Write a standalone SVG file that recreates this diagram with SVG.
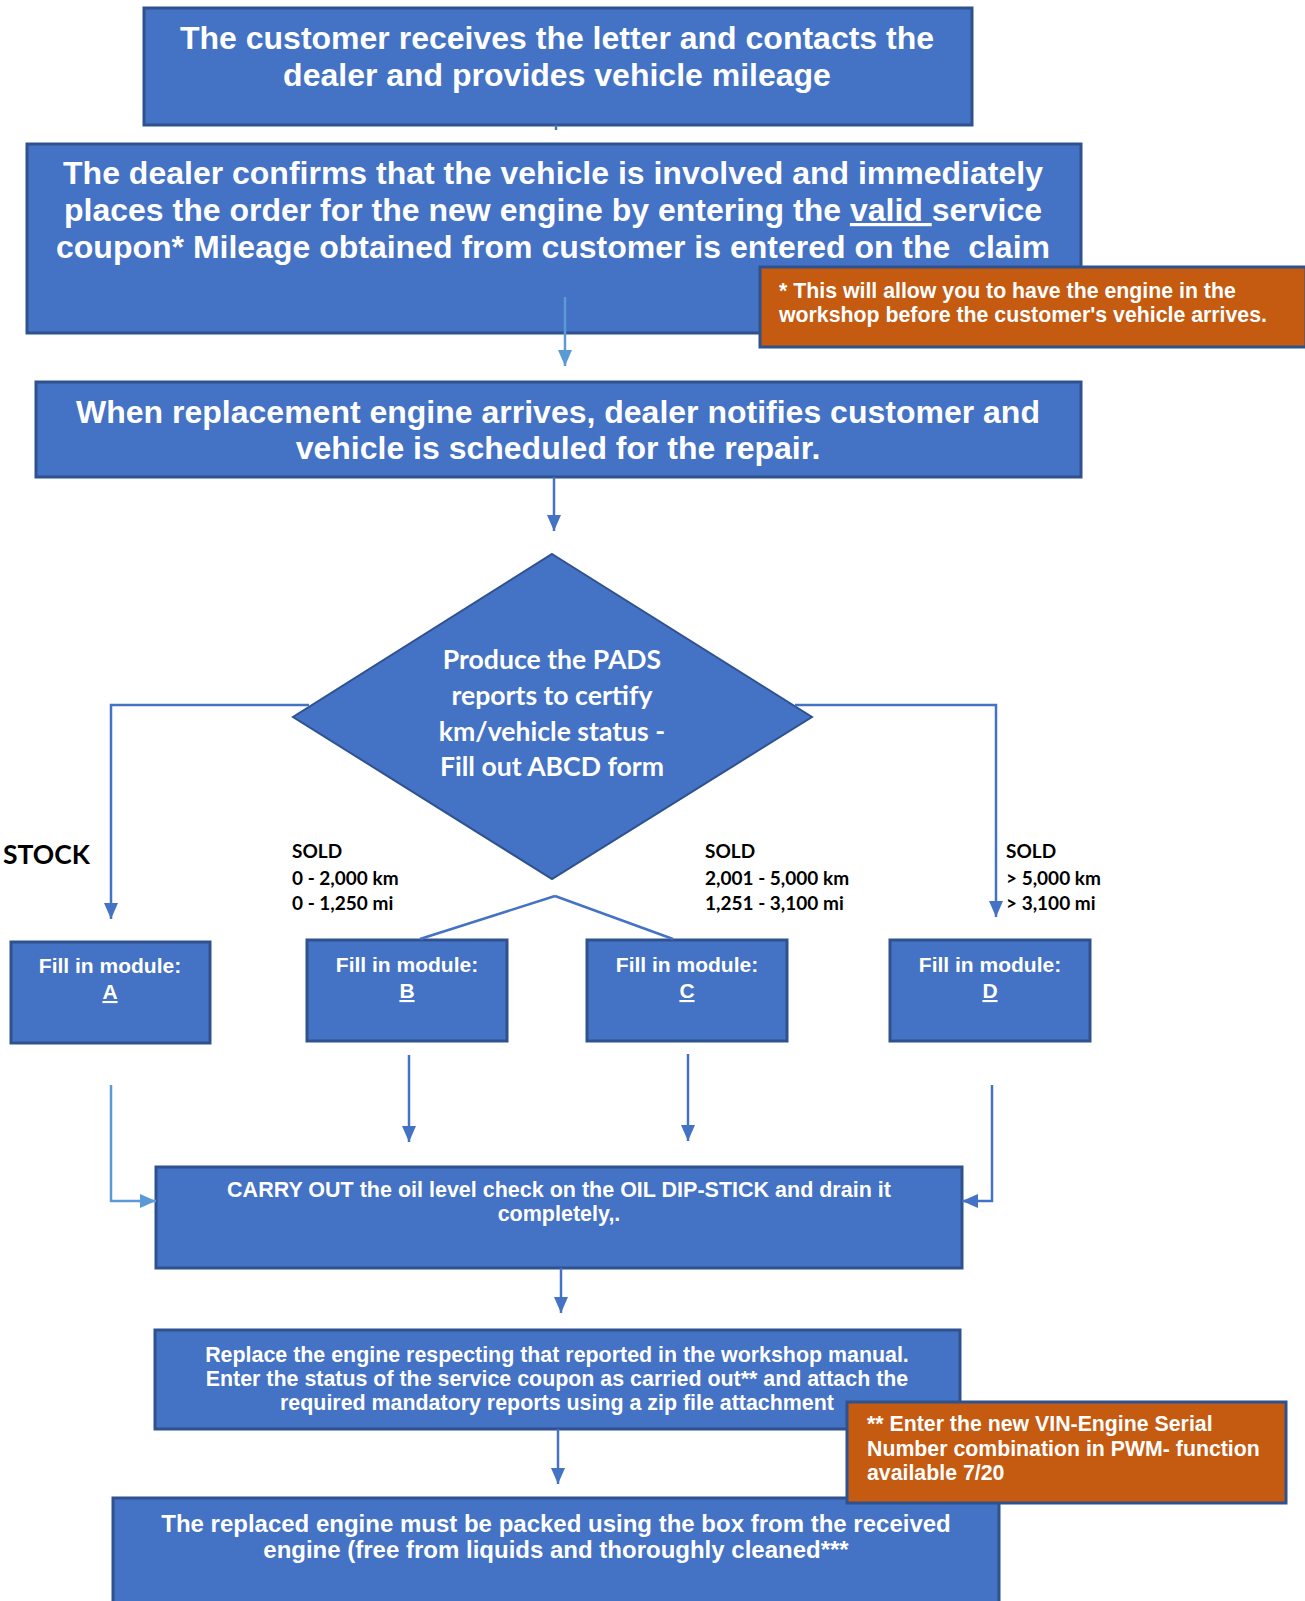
<svg xmlns="http://www.w3.org/2000/svg" width="1305" height="1601" viewBox="0 0 1305 1601">
<style>
.box{fill:#4472C4;stroke:#2F528F;stroke-width:3}
.note{fill:#C55A11;stroke:#2F528F;stroke-width:3}
.t{font-family:"Liberation Sans",Arial,sans-serif;font-weight:bold;fill:#fff}
.c{font-family:Lato,"Liberation Sans",sans-serif;font-weight:bold}
.mid{text-anchor:middle}
.ln{fill:none;stroke:#4472C4;stroke-width:2.5}
.lt{fill:none;stroke:#5B9BD5;stroke-width:2.5}
</style>
<defs>
<marker id="ah" markerUnits="userSpaceOnUse" markerWidth="16" markerHeight="14" refX="16" refY="7" orient="auto"><path d="M0,0 L16,7 L0,14 z" fill="#4472C4"/></marker>
<marker id="ahl" markerUnits="userSpaceOnUse" markerWidth="16" markerHeight="14" refX="16" refY="7" orient="auto"><path d="M0,0 L16,7 L0,14 z" fill="#5B9BD5"/></marker>
</defs>
<rect width="1305" height="1601" fill="#fff"/>

<g id="n1">
<rect class="box" x="144" y="8" width="828" height="117"/>
<text class="t mid" font-size="32" x="557" y="49">The customer receives the letter and contacts the</text>
<text class="t mid" font-size="32" x="557" y="86">dealer and provides vehicle mileage</text>
</g>

<g id="n2">
<rect class="box" x="27" y="144" width="1054" height="189"/>
<text class="t mid" font-size="32" x="553" y="184">The dealer confirms that the vehicle is involved and immediately</text>
<text class="t mid" font-size="32" x="553" y="221" xml:space="preserve">places the order for the new engine by entering the <tspan text-decoration="underline">valid </tspan>service</text>
<text class="t mid" font-size="32" x="553" y="258" xml:space="preserve">coupon* Mileage obtained from customer is entered on the  claim</text>
</g>

<g id="note1">
<rect class="note" x="760" y="267" width="546" height="80"/>
<text class="t" font-size="21.3" x="779" y="298">* This will allow you to have the engine in the</text>
<text class="t" font-size="21.3" x="779" y="322">workshop before the customer's vehicle arrives.</text>
</g>

<g id="n3">
<rect class="box" x="36" y="382" width="1045" height="95"/>
<text class="t mid" font-size="32" x="558" y="423">When replacement engine arrives, dealer notifies customer and</text>
<text class="t mid" font-size="32" x="558" y="459">vehicle is scheduled for the repair.</text>
</g>

<g id="decision">
<polygon points="552,554 812,717 552,879 293,717" fill="#4472C4" stroke="#2F528F" stroke-width="2"/>
<text class="c mid" font-size="26.6" fill="#fff" x="552" y="669">Produce the PADS</text>
<text class="c mid" font-size="26.6" fill="#fff" x="552" y="705">reports to certify</text>
<text class="c mid" font-size="26.6" fill="#fff" x="552" y="741">km/vehicle status -</text>
<text class="c mid" font-size="26.6" fill="#fff" x="552" y="776">Fill out ABCD form</text>
</g>

<g id="labels">
<text class="c" font-size="26.5" fill="#000" x="3" y="864">STOCK</text>
<text class="c" font-size="19" fill="#000" x="292" y="858">SOLD</text>
<text class="c" font-size="19" fill="#000" x="292" y="885">0 - 2,000 km</text>
<text class="c" font-size="19" fill="#000" x="292" y="910">0 - 1,250 mi</text>
<text class="c" font-size="19" fill="#000" x="705" y="858">SOLD</text>
<text class="c" font-size="19" fill="#000" x="705" y="885">2,001 - 5,000 km</text>
<text class="c" font-size="19" fill="#000" x="705" y="910">1,251 - 3,100 mi</text>
<text class="c" font-size="19" fill="#000" x="1006" y="858">SOLD</text>
<text class="c" font-size="19" fill="#000" x="1006" y="885">&gt; 5,000 km</text>
<text class="c" font-size="19" fill="#000" x="1006" y="910">&gt; 3,100 mi</text>
</g>

<g id="mA">
<rect class="box" x="11" y="942" width="199" height="101"/>
<text class="t mid" font-size="21" x="110" y="973">Fill in module:</text>
<text class="t mid" font-size="21" x="110" y="999" text-decoration="underline">A</text>
</g>
<g id="mB">
<rect class="box" x="307" y="940" width="200" height="101"/>
<text class="t mid" font-size="21" x="407" y="972">Fill in module:</text>
<text class="t mid" font-size="21" x="407" y="998" text-decoration="underline">B</text>
</g>
<g id="mC">
<rect class="box" x="587" y="940" width="200" height="101"/>
<text class="t mid" font-size="21" x="687" y="972">Fill in module:</text>
<text class="t mid" font-size="21" x="687" y="998" text-decoration="underline">C</text>
</g>
<g id="mD">
<rect class="box" x="890" y="940" width="200" height="101"/>
<text class="t mid" font-size="21" x="990" y="972">Fill in module:</text>
<text class="t mid" font-size="21" x="990" y="998" text-decoration="underline">D</text>
</g>

<g id="n4">
<rect class="box" x="156" y="1167" width="806" height="101"/>
<text class="t mid" font-size="21.5" x="559" y="1197">CARRY OUT the oil level check on the OIL DIP-STICK and drain it</text>
<text class="t mid" font-size="21.5" x="559" y="1221">completely,.</text>
</g>

<g id="n5">
<rect class="box" x="155" y="1330" width="805" height="99"/>
<text class="t mid" font-size="21.4" x="557" y="1362">Replace the engine respecting that reported in the workshop manual.</text>
<text class="t mid" font-size="21.4" x="557" y="1386">Enter the status of the service coupon as carried out** and attach the</text>
<text class="t mid" font-size="21.4" x="557" y="1410">required mandatory reports using a zip file attachment</text>
</g>

<g id="n6">
<rect class="box" x="113" y="1498" width="886" height="110"/>
<text class="t mid" font-size="24" x="556" y="1532">The replaced engine must be packed using the box from the received</text>
<text class="t mid" font-size="24" x="556" y="1558">engine (free from liquids and thoroughly cleaned***</text>
</g>

<g id="note2">
<rect class="note" x="847" y="1402" width="439" height="101"/>
<text class="t" font-size="21.3" x="867" y="1431">** Enter the new VIN-Engine Serial</text>
<text class="t" font-size="21.3" x="867" y="1456">Number combination in PWM- function</text>
<text class="t" font-size="21.3" x="867" y="1480">available 7/20</text>
</g>

<g id="connectors">
<line class="ln" x1="556" y1="125" x2="556" y2="130"/>
<line class="lt" x1="565" y1="297" x2="565" y2="366" marker-end="url(#ahl)"/>
<line class="ln" x1="554" y1="477" x2="554" y2="531" marker-end="url(#ah)"/>
<polyline class="ln" points="309,705 111,705 111,919" marker-end="url(#ah)"/>
<polyline class="ln" points="795,705 996,705 996,917" marker-end="url(#ah)"/>
<line class="ln" x1="555" y1="896" x2="420" y2="939"/>
<line class="ln" x1="555" y1="896" x2="673" y2="939"/>
<line class="ln" x1="409" y1="1055" x2="409" y2="1142" marker-end="url(#ah)"/>
<line class="ln" x1="688" y1="1054" x2="688" y2="1141" marker-end="url(#ah)"/>
<polyline class="lt" points="111,1085 111,1201 156,1201" marker-end="url(#ahl)"/>
<polyline class="ln" points="992,1085 992,1201 962,1201" marker-end="url(#ah)"/>
<line class="ln" x1="561" y1="1268" x2="561" y2="1313" marker-end="url(#ah)"/>
<line class="ln" x1="558" y1="1429" x2="558" y2="1484" marker-end="url(#ah)"/>
</g>
</svg>
